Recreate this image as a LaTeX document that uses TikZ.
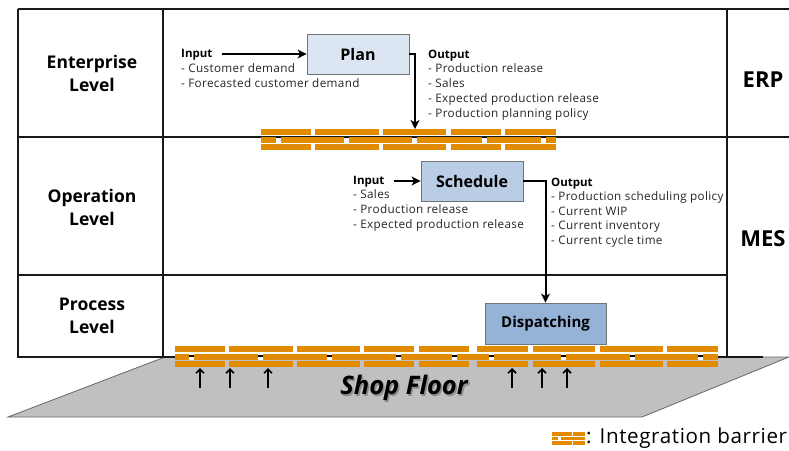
\documentclass[tikz,border=0pt]{standalone}
\usepackage{fontspec}
\setmainfont{Open Sans}
\newfontfamily\bodyfont[LetterSpace=3]{Open Sans}
\usetikzlibrary{arrows.meta}
\definecolor{brick}{HTML}{E38B00}
\definecolor{floorgray}{HTML}{C0C0C0}
\definecolor{planfill}{HTML}{DCE6F2}
\definecolor{schedfill}{HTML}{B9CDE5}
\definecolor{dispfill}{HTML}{95B3D7}
\definecolor{txtgray}{HTML}{262626}
\newcommand{\mybarrier}[6]{%
  \foreach \a/\b in {#4} {
    \fill[brick] (\a,{#1}) rectangle (\b,{#1+6});
    \fill[brick] (\a,{#1+15}) rectangle (\b,{#1+21});
  }
  \fill[brick] (#2,{#1+7.5}) rectangle (#3,{#1+13.5});
  \foreach \n in {#5} {
    \fill[white] ({\n-2.5},{#1+7.5}) rectangle ({\n+2.5},{#1+13.5});
    \draw[line width=1.2pt] ({\n-2.5},#6) -- ({\n+2.5},#6);
  }
}
\tikzset{
  tbl/.style={line width=1.3pt, draw=black!90},
  procbox/.style={draw=black!55, line width=0.8pt, minimum width=102pt, minimum height=40pt, font=\fontsize{16}{18}\selectfont\bfseries, inner sep=0pt},
  txt/.style={font=\bodyfont\fontsize{11.7}{14}\selectfont, text=txtgray, inner sep=0pt},
  hdr/.style={font=\fontsize{11.5}{14}\selectfont\bfseries, inner sep=0pt},
  lvl/.style={font=\fontsize{17.5}{23}\selectfont\bfseries, align=center, inner sep=0pt},
  sys/.style={font=\fontsize{22}{26}\selectfont\bfseries, inner sep=0pt},
  arr/.style={line width=2pt, -{Stealth[length=9pt,width=9pt,inset=2.5pt]}},
  uparr/.style={line width=1.6pt, -{Straight Barb[length=4pt,width=8pt]}}
}
\begin{document}
\begin{tikzpicture}[x=1pt,y=-1pt]
\useasboundingbox (0,0) rectangle (789,450);
\fill[white] (0,0) rectangle (789,450);

% shop floor
\filldraw[fill=floorgray, draw=black!60, line width=0.8pt] (165,357) -- (789,357) -- (642,417) -- (8,417) -- cycle;
\node[font=\fontsize{25.5}{28}\selectfont\bfseries\itshape, text=black!45, inner sep=0pt] (shopshadow) at (405.5,389.5) {Shop Floor};
\node[font=\fontsize{25.5}{28}\selectfont\bfseries\itshape, inner sep=0pt] (shop) at (404,388) {Shop Floor};

% table
\draw[tbl] (18,9) -- (789,9);
\draw[tbl] (18,9) -- (18,357) -- (763,357);
\draw[tbl] (163,9) -- (163,357);
\draw[tbl] (727,9) -- (727,357);
\draw[tbl] (18,137) -- (789,137);
\draw[tbl] (18,275) -- (727,275);

% level labels
\node[lvl] (ent) at (92,73.5) {Enterprise\\Level};
\node[lvl] (ope) at (92,207) {Operation\\Level};
\node[lvl] (pro) at (92,315.5) {Process\\Level};
\node[sys] (erp) at (763,79.5) {ERP};
\node[sys] (mes) at (763,238.5) {MES};

% barriers
\mybarrier{129}{261}{556}{261/311,315/379,383/446,451/501,505/556}{278,346,414,484,543}{137.5}
\mybarrier{346}{175}{718}{175/225,229/293,297/360,364/414,419/469,477/528,533/595,600/663,667/718}{191,260,329,398,454,491,563,632,700}{356}
\coordinate (b1top) at (415,129);
\coordinate (b2bot) at (0,368);

% process boxes
\node[procbox, fill=planfill] (plan) at (358,54) {Plan};
\node[procbox, fill=schedfill] (sched) at (472,181) {Schedule};
\node[procbox, fill=dispfill, minimum width=121pt, minimum height=41pt, font=\fontsize{15}{18}\selectfont\bfseries] (disp) at (545.5,323.5) {Dispatching};

% plan input/output
\node[hdr, anchor=base west] (pinhead) at (181,57) {Input};
\foreach \t [count=\i] in {Customer demand, Forecasted customer demand}
  \node[txt, anchor=base west] (pin\i) at (181,{57+15*\i}) {- \t};
\draw[arr] ([xshift=9pt]pinhead.east |- plan.west) -- (plan.west);
\node[hdr, anchor=base west] (pouthead) at (428,58) {Output};
\foreach \t [count=\i] in {Production release, Sales, Expected production release, Production planning policy}
  \node[txt, anchor=base west] (pout\i) at (428,{58+14.8*\i}) {- \t};
\draw[arr] (plan.east) -| (b1top);

% schedule input/output
\node[hdr, anchor=base west] (sinhead) at (353,184) {Input};
\foreach \t [count=\i] in {Sales, Production release, Expected production release}
  \node[txt, anchor=base west] (sin\i) at (353,{184+14.7*\i}) {- \t};
\draw[arr] ([xshift=9pt]sinhead.east |- sched.west) -- (sched.west);
\node[hdr, anchor=base west] (southead) at (551,186) {Output};
\foreach \t [count=\i] in {Production scheduling policy, Current WIP, Current inventory, Current cycle time}
  \node[txt, anchor=base west] (sout\i) at (551,{186+14.6*\i}) {- \t};
\draw[arr] (sched.east) -| (disp.north);

% up arrows from shop floor
\foreach \x [count=\i] in {200,230,268,512,542,567} {
  \coordinate (ua\i) at (\x,388);
  \draw[uparr] (ua\i) -- (ua\i |- b2bot);
}

% legend
\fill[brick] (552,432) rectangle (585,435.5);
\fill[brick] (552,436.5) rectangle (585,440);
\fill[brick] (552,441) rectangle (585,444.5);
\fill[white] (558,436.5) rectangle (561,440);
\fill[white] (572,432) rectangle (573,435.5);
\fill[white] (572,441) rectangle (573,444.5);
\node[font=\bodyfont\fontsize{20.6}{22}\selectfont, anchor=base west, inner sep=0pt] (legend) at (586,443) {: Integration barrier};
\end{tikzpicture}
\end{document}
